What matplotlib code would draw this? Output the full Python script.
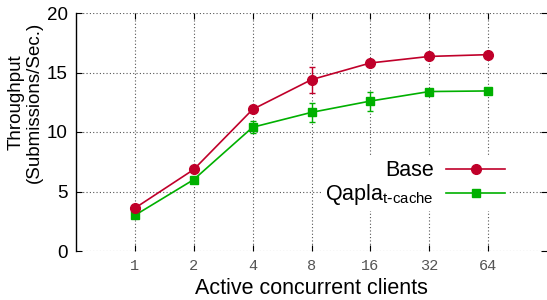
import matplotlib
matplotlib.use("Agg")
import matplotlib.pyplot as plt
from matplotlib.lines import Line2D

# data
clients = ["1", "2", "4", "8", "16", "32", "64"]
base = [3.6, 6.85, 11.9, 14.4, 15.8, 16.35, 16.5]
base_err = [0.0, 0.0, 0.0, 1.1, 0.0, 0.0, 0.0]
qapla = [3.0, 6.0, 10.4, 11.65, 12.6, 13.4, 13.45]
qapla_err = [0.0, 0.0, 0.5, 0.8, 0.8, 0.0, 0.0]

red = "#c0002a"
green = "#00b000"

plt.rcParams['font.family'] = ['Liberation Sans', 'DejaVu Sans']

fig = plt.figure(figsize=(5.47, 3.0), dpi=100)
# axes box in pixels: left 76, right 547, top 13, bottom 251
ax = fig.add_axes([76 / 547, (300 - 251) / 300, 471 / 547, 238 / 300])

x = list(range(1, len(clients) + 1))

ax.errorbar(x, base, yerr=base_err, color=red, lw=1.2, marker="o", ms=7,
            capsize=2.2, elinewidth=1.0, zorder=4)
ax.errorbar(x, qapla, yerr=qapla_err, color=green, lw=1.2, marker="s", ms=5.5,
            capsize=2.2, elinewidth=1.0, zorder=3)

ax.set_xlim(0, 8)
ax.set_ylim(0, 20)
ax.set_xticks(x)
ax.set_xticklabels(clients, family="Liberation Mono", fontsize=11, color="#555555")
ax.set_yticks([0, 5, 10, 15, 20])
ax.tick_params(axis="y", labelsize=13.5, pad=6)
ax.tick_params(direction="in", top=True, right=True, length=4, width=0.8)
ax.tick_params(axis="x", pad=6)

ax.grid(True, linestyle=(0, (1, 2)), color="#555555", lw=0.8)
for s in ["top", "right", "bottom"]:
    ax.spines[s].set_visible(False)
ax.spines["left"].set_linewidth(1.0)

ax.set_xlabel("Active concurrent clients", fontsize=15.5, labelpad=3)
ax.set_ylabel("Throughput\n(Submissions/Sec.)", fontsize=13.5, linespacing=1.1)
ax.yaxis.set_label_coords(-0.07, 0.626)

# legend samples without error bars
handles = [
    Line2D([], [], color=red, lw=1.2, marker="o", ms=7),
    Line2D([], [], color=green, lw=1.2, marker="s", ms=5.5),
]
labels = ["Base", r"Qapla$_{\mathregular{t\text{-}cache}}$"]
leg = ax.legend(handles, labels, loc="center right", bbox_to_anchor=(0.942, 0.283),
                frameon=True, fontsize=15.5, markerfirst=False, handlelength=2.7,
                handletextpad=0.6, borderpad=0.2, labelspacing=0.05,
                fancybox=False)
leg.get_frame().set_edgecolor("none")
leg.get_frame().set_facecolor("white")
leg.get_frame().set_alpha(1.0)

fig.savefig("out.png", dpi=100)
